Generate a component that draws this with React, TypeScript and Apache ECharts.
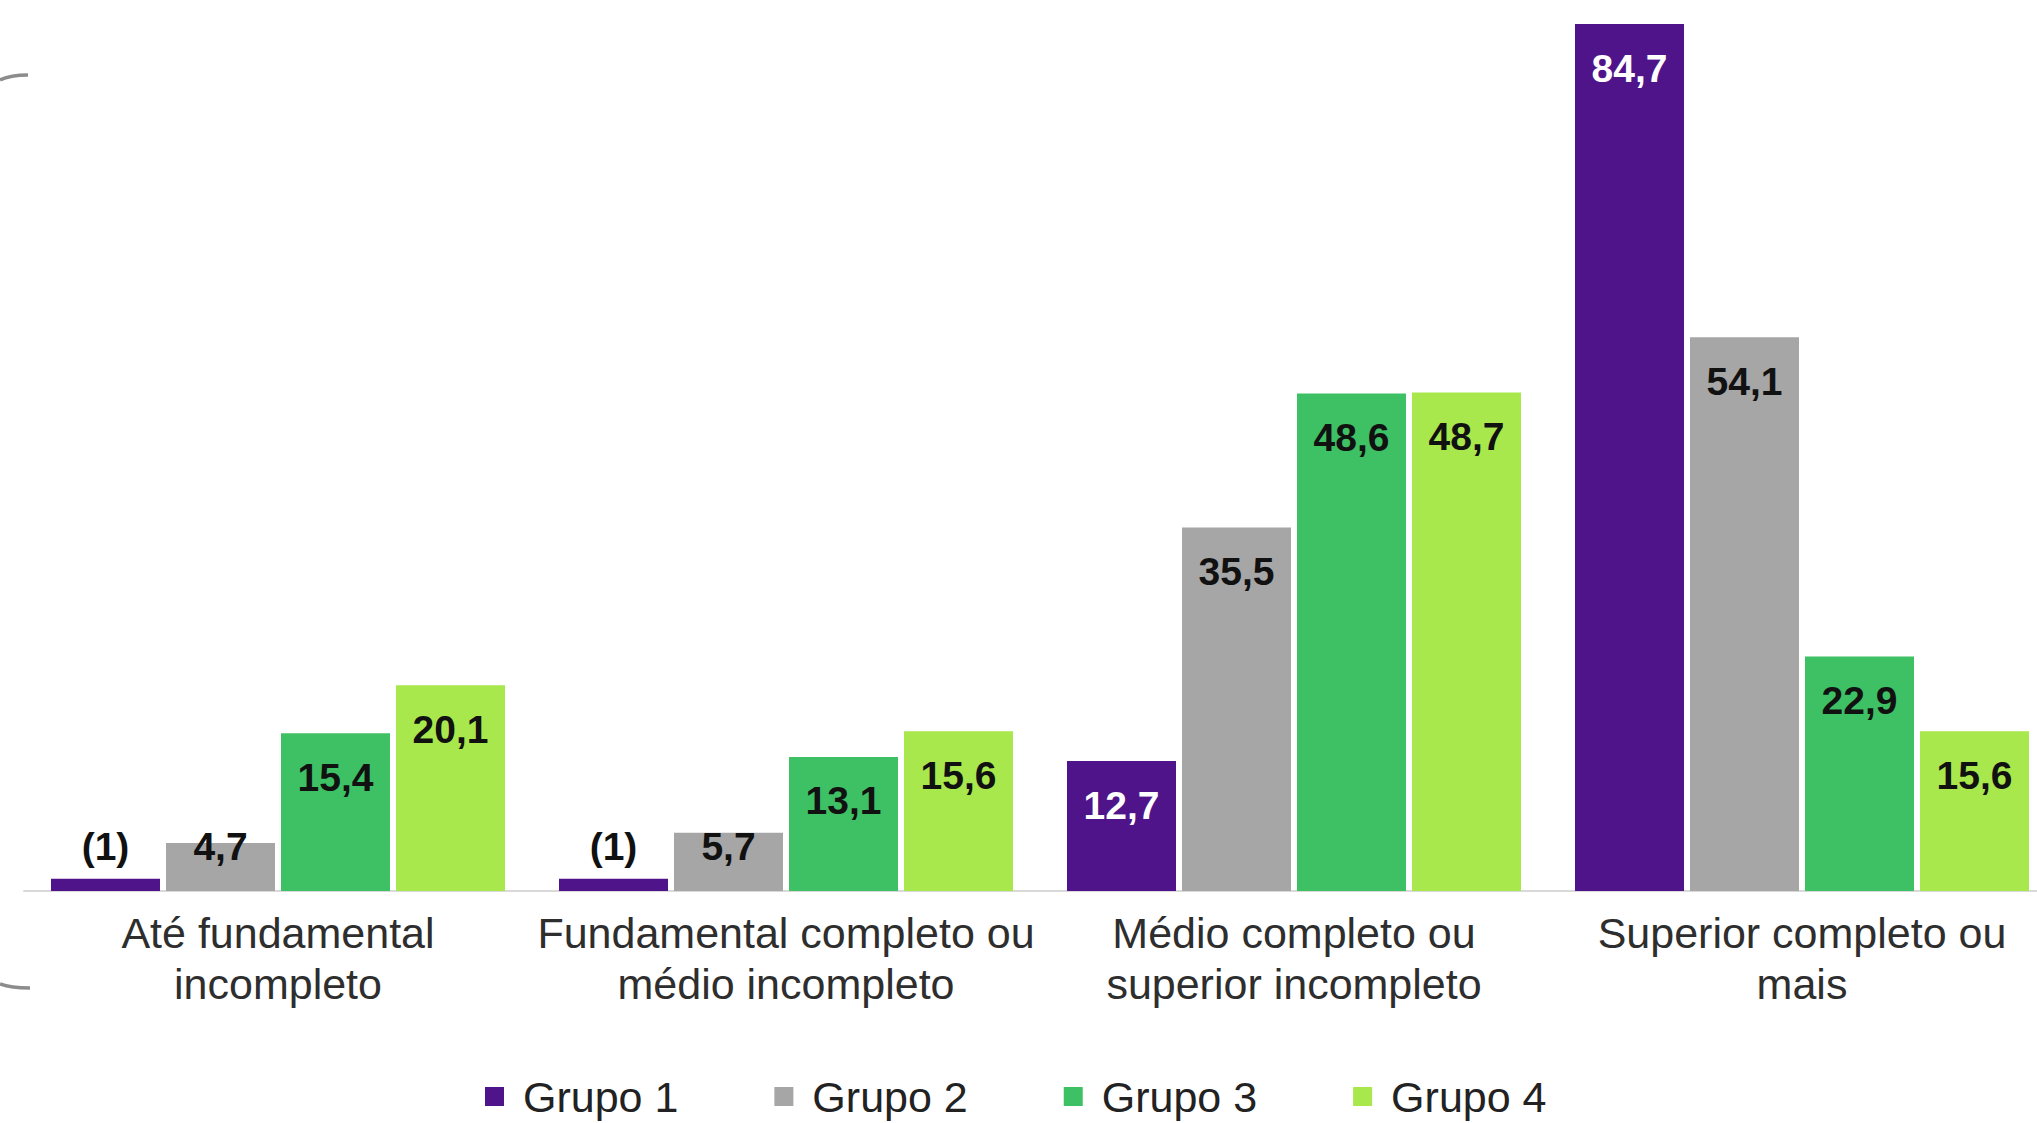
import React, { useEffect, useRef } from "react";
import * as echarts from "echarts";

const categories = [
  "Até fundamental\nincompleto",
  "Fundamental completo ou\nmédio incompleto",
  "Médio completo ou\nsuperior incompleto",
  "Superior completo ou\nmais",
];
const seriesNames = ["Grupo 1", "Grupo 2", "Grupo 3", "Grupo 4"];
const grupo1 = [1.2, 1.2, 12.7, 84.7];
const grupo1Labels = ["(1)", "(1)", "12,7", "84,7"];
const grupo2 = [4.7, 5.7, 35.5, 54.1];
const grupo3 = [15.4, 13.1, 48.6, 22.9];
const grupo4 = [20.1, 15.6, 48.7, 15.6];
const colors = ["#4f1489", "#a6a6a6", "#3ec064", "#a8e84c"];

const fmt = (v: number) => v.toFixed(1).replace(".", ",");

const EXTRA = 19;

export default function App() {
  const ref = useRef<HTMLDivElement>(null);
  useEffect(() => {
    if (!ref.current) return;
    const chart = echarts.init(ref.current, undefined, { renderer: "svg" });
    const labelBase = {
      show: true,
      fontFamily: "Liberation Sans, Arial, sans-serif",
      fontWeight: "bold",
      fontSize: 39,
      lineHeight: 40,
      color: "#111",
    };
    const makeData = (vals: number[], idx: number, texts?: string[]) =>
      vals.map((v, i) => {
        const small = v < 10;
        const txt = texts ? texts[i] : fmt(v);
        const white = idx === 0 && !small;
        return {
          value: v,
          label: {
            ...labelBase,
            position: small ? "insideBottom" : "insideTop",
            distance: small ? 25 : 24,
            color: white ? "#ffffff" : "#111",
            formatter: () => txt,
          },
        };
      });
    const allVals = [grupo1, grupo2, grupo3, grupo4];
    const series = allVals.map((vals, idx) => ({
      name: seriesNames[idx],
      type: "bar",
      barWidth: 109,
      barGap: "5.5%",
      itemStyle: { color: colors[idx] },
      data: makeData(vals, idx, idx === 0 ? grupo1Labels : undefined),
    }));
    chart.setOption({
      animation: false,
      backgroundColor: "#ffffff",
      grid: { left: 24, right: 0, top: 24, bottom: 232, containLabel: false },
      xAxis: {
        type: "category",
        data: categories,
        axisLine: { lineStyle: { color: "#d9d9d9", width: 2 } },
        axisTick: { show: false },
        axisLabel: {
          interval: 0,
          margin: 16,
          fontSize: 43,
          lineHeight: 51,
          color: "#2e2e2e",
          fontFamily: "Liberation Sans, Arial, sans-serif",
        },
      },
      yAxis: {
        type: "value",
        show: false,
        min: 0,
        max: 84.7,
        splitLine: { show: false },
      },
      legend: {
        data: seriesNames,
        left: 480,
        top: 1070,
        icon: "rect",
        itemWidth: 19,
        itemHeight: 19,
        itemGap: 96,
        textStyle: {
          fontSize: 43,
          color: "#222",
          fontFamily: "Liberation Sans, Arial, sans-serif",
          padding: [0, 0, 0, 14],
        },
      },
      graphic: [
        {
          type: "bezierCurve",
          shape: { x1: 0, y1: 80, cpx1: 8, cpy1: 76, cpx2: 16, cpy2: 75, x2: 28, y2: 75 },
          style: { stroke: "#8c8c8c", lineWidth: 3.5, fill: "none" },
        },
        {
          type: "bezierCurve",
          shape: { x1: 0, y1: 984, cpx1: 8, cpy1: 987, cpx2: 16, cpy2: 988, x2: 30, y2: 988 },
          style: { stroke: "#8c8c8c", lineWidth: 3.5, fill: "none" },
        },
      ],
      series,
    });
    return () => chart.dispose();
  }, []);
  return (
    <div
      style={{
        position: "absolute",
        left: 0,
        top: 0,
        width: 2037,
        height: 1123,
        overflow: "hidden",
        background: "#ffffff",
      }}
    >
      <div ref={ref} style={{ width: 2037 + EXTRA, height: 1123 }} />
    </div>
  );
}
